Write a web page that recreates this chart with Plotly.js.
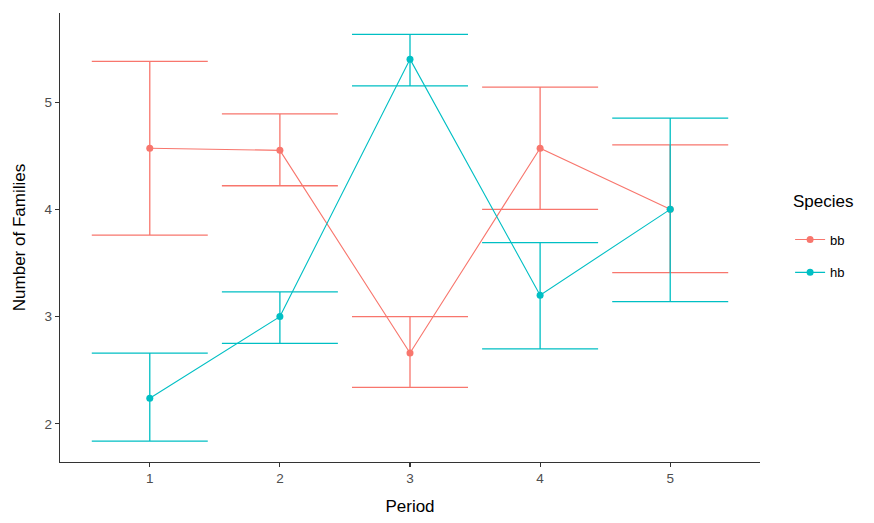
<!DOCTYPE html>
<html>
<head>
<meta charset="utf-8">
<script src="https://cdn.plot.ly/plotly-3.0.1.min.js"></script>
<style>html,body{margin:0;padding:0;background:#fff;}#chart{width:874px;height:523px;}</style>
</head>
<body>
<div id="chart"></div>
<script>
var periods = [1, 2, 3, 4, 5];
var bbMean  = [4.57, 4.55, 2.66, 4.57, 4.00];
var bbUpper = [5.38, 4.89, 3.00, 5.14, 4.60];
var bbLower = [3.76, 4.22, 2.34, 4.00, 3.41];
var hbMean  = [2.24, 3.00, 5.40, 3.20, 4.00];
var hbUpper = [2.66, 3.23, 5.63, 3.69, 4.85];
var hbLower = [1.84, 2.75, 5.15, 2.70, 3.14];
var seriesNames = ['bb', 'hb'];
var colors = ['#F8766D', '#00BFC4'];

function diff(a, b) { return a.map(function (v, i) { return Math.abs(v - b[i]); }); }

function makeTrace(name, mean, up, lo, color) {
  return {
    x: periods, y: mean, name: name, legendgroup: name, type: 'scatter', mode: 'lines+markers',
    line: {color: color, width: 1.1},
    marker: {color: color, size: 7},
    error_y: {type: 'data', symmetric: false, array: diff(up, mean), arrayminus: diff(mean, lo),
              color: color, thickness: 1.3, width: 58}
  };
}

var data = [
  makeTrace(seriesNames[0], bbMean, bbUpper, bbLower, colors[0]),
  makeTrace(seriesNames[1], hbMean, hbUpper, hbLower, colors[1])
];

var axisCommon = {
  showgrid: false, zeroline: false, showline: true, linecolor: '#333333', linewidth: 1.2,
  ticks: 'outside', ticklen: 4, tickcolor: '#333333', tickwidth: 1.1,
  tickfont: {family: 'Liberation Sans, Arial, sans-serif', size: 13.5, color: '#4d4d4d'}
};

var layout = {
  width: 874, height: 523,
  margin: {l: 60, r: 114, t: 13, b: 61},
  paper_bgcolor: '#ffffff', plot_bgcolor: '#ffffff',
  font: {family: 'Liberation Sans, Arial, sans-serif', color: '#000000'},
  xaxis: Object.assign({}, axisCommon, {
    range: [0.31, 5.69], tickvals: periods, ticktext: periods.map(String),
    title: {text: 'Period', font: {size: 17, color: '#000'}, standoff: 14}
  }),
  yaxis: Object.assign({}, axisCommon, {
    range: [1.645, 5.83], tickvals: [2, 3, 4, 5],
    title: {text: 'Number of Families', font: {size: 17, color: '#000'}, standoff: 14}
  }),
  showlegend: true,
  legend: {
    x: 1.043, xanchor: 'left', y: 0.529, yanchor: 'top',
    font: {size: 13, color: '#000'}, tracegroupgap: 13, itemwidth: 30
  },
  annotations: [{
    text: 'Species', xref: 'paper', yref: 'paper', x: 1.044, y: (462 - 202) / 449,
    xanchor: 'left', yanchor: 'middle', showarrow: false, font: {size: 17, color: '#000'}
  }]
};

Plotly.newPlot('chart', data, layout, {displayModeBar: false, staticPlot: true});
</script>
</body>
</html>
